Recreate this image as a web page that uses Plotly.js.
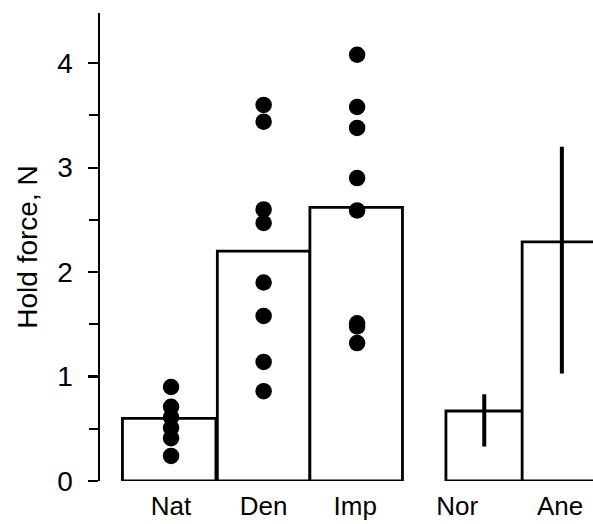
<!DOCTYPE html>
<html>
<head>
<meta charset="utf-8">
<script src="https://cdn.plot.ly/plotly-3.0.1.min.js"></script>
<style>html,body{margin:0;padding:0;background:#fff;}#chart{width:593px;height:524px;}</style>
</head>
<body>
<div id="chart"></div>
<script>
// Data
const categories = ["Nat", "Den", "Imp", "Nor", "Ane"];
const barPos = [0.74, 1.75, 2.74, 4.11, 4.94];
const barWidth = [1.0, 0.99, 0.99, 0.82, 0.85];
const labelPos = [0.76, 1.75, 2.73, 3.82, 4.92];
const barMeans = [0.60, 2.20, 2.62, 0.67, 2.29];
const errHigh = [null, null, null, 0.16, 0.91];
const errLow = [null, null, null, 0.34, 1.26];

const natDots = [0.90, 0.71, 0.61, 0.51, 0.41, 0.24];
const denDots = [3.60, 3.44, 2.60, 2.47, 1.90, 1.58, 1.14, 0.86];
const impDots = [4.08, 3.58, 3.38, 2.90, 2.59, 1.51, 1.48, 1.32];
const dotGroups = [natDots, denDots, impDots];
const dotPos = [0.76, 1.75, 2.75];

const yTicks = [0, 1, 2, 3, 4];

const dotX = [], dotY = [];
dotGroups.forEach((g, i) => g.forEach(v => { dotX.push(dotPos[i]); dotY.push(v); }));

const font = "Liberation Sans, Arial, Helvetica, sans-serif";

const traces = [
  {
    type: "bar",
    x: barPos,
    y: barMeans,
    width: barWidth,
    marker: {color: "#ffffff", line: {color: "#000000", width: 2.8}},
    error_y: {
      type: "data", symmetric: false,
      array: errHigh.map(v => v == null ? 0 : v),
      arrayminus: errLow.map(v => v == null ? 0 : v),
      visible: true, color: "#000000", thickness: 4, width: 0
    },
    hoverinfo: "skip",
    showlegend: false
  },
  {
    type: "scatter",
    mode: "markers",
    x: dotX,
    y: dotY,
    marker: {color: "#000000", size: 16.5, line: {width: 0}},
    hoverinfo: "skip",
    showlegend: false,
    cliponaxis: false
  }
];

const layout = {
  width: 593, height: 524,
  margin: {l: 100, r: 0, t: 13, b: 43},
  paper_bgcolor: "#ffffff",
  plot_bgcolor: "#ffffff",
  showlegend: false,
  bargap: 0,
  xaxis: {
    range: [0, 5.273],
    showgrid: false, zeroline: false, showline: false,
    tickmode: "array", tickvals: labelPos, ticktext: categories,
    ticks: "", ticklabelstandoff: 7,
    tickfont: {family: font, size: 26, color: "#000000"},
    fixedrange: true
  },
  yaxis: {
    range: [0, 4.48],
    showgrid: false, zeroline: false,
    showline: true, linecolor: "#000000", linewidth: 2.5,
    tickmode: "array", tickvals: yTicks, ticktext: yTicks.map(String),
    ticks: "outside", ticklen: 10, tickwidth: 2.2, tickcolor: "#000000",
    minor: {dtick: 0.5, tick0: 0, ticks: "outside", ticklen: 9, tickwidth: 2.2, tickcolor: "#000000", showgrid: false},
    ticklabelstandoff: 9,
    tickfont: {family: font, size: 28, color: "#000000"},
    title: {text: "Hold force, N", font: {family: font, size: 28, color: "#000000"}, standoff: 12},
    fixedrange: true
  }
};

Plotly.newPlot("chart", traces, layout, {displayModeBar: false, staticPlot: true});
</script>
</body>
</html>
